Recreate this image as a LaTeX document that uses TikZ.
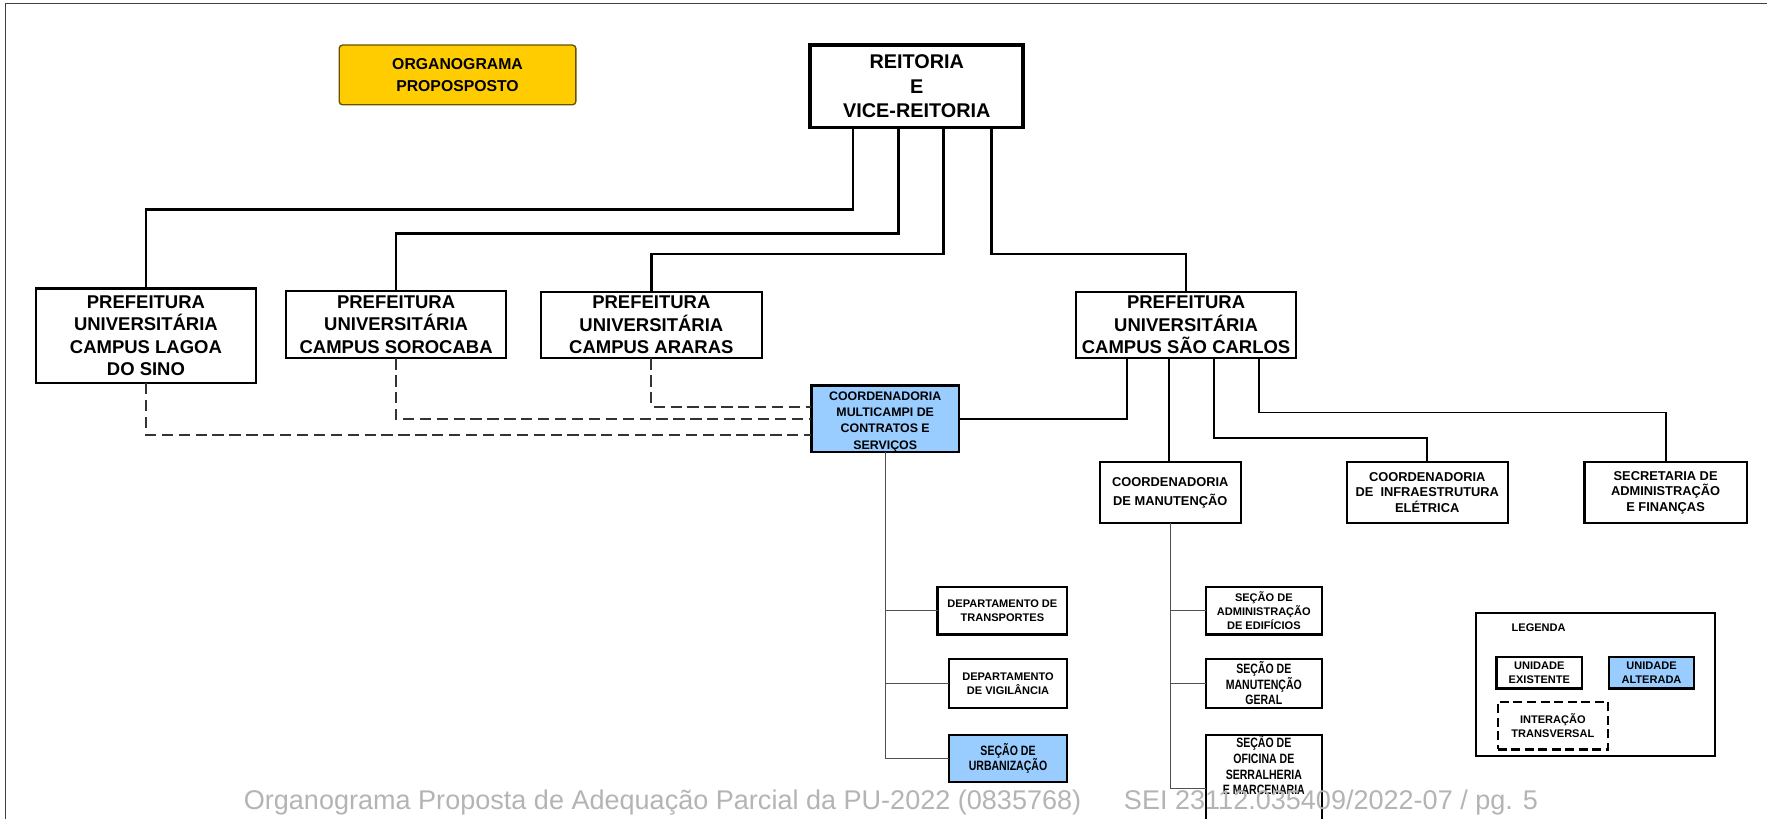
\documentclass[tikz,border=0pt]{standalone}
\usepackage{fontspec}
\setmainfont{Liberation Sans}
\newfontfamily\narrowf[FakeStretch=0.78]{Liberation Sans}
\usetikzlibrary{calc}
\definecolor{ublue}{HTML}{99CCFF}
\definecolor{uyellow}{HTML}{FFCC00}
\definecolor{foot}{HTML}{B4B4B4}
\definecolor{lowgray}{HTML}{505050}
\newcommand\bx[7]{\node[#6, minimum width={(#4-#2)*0.5pt}, minimum height={(#5-#3)*0.5pt}] (#1) at ({(#2+#4)/2},{(#3+#5)/2}) {#7};}
\tikzset{
  box/.style={draw, inner sep=0pt, outer sep=0pt, align=center, line width=1pt},
  pref/.style={box, font=\fontsize{8.2}{10}\selectfont\bfseries},
  multis/.style={box, fill=ublue, font=\fontsize{5.5}{7.2}\selectfont\bfseries},
  coord/.style={box, font=\fontsize{5.7}{6.9}\selectfont\bfseries},
  small/.style={box, font=\fontsize{4.9}{6.3}\selectfont\bfseries},
  narrowbox/.style={box, font=\fontsize{6}{6.9}\narrowf\bfseries},
  topl/.style={line width=1.2pt},
  midl/.style={line width=0.8pt},
  lowl/.style={line width=0.55pt, draw=lowgray},
  dashl/.style={line width=0.8pt, draw=black!80, dash pattern=on 5pt off 2.5pt},
  foottext/.style={anchor=base west, inner sep=0pt, text=foot, font=\fontsize{12}{14}\selectfont},
}
\begin{document}
\begin{tikzpicture}[x=0.5pt,y=-0.5pt]
\useasboundingbox (0,0) rectangle (1568,726);
% page frame
\draw[line width=0.7pt, black!75] (5,730) -- (5,3) -- (1570,3);
% title
\bx{org}{301}{40}{511}{93}{box, fill=uyellow, draw=black!60!uyellow, line width=0.6pt, rounded corners=1.5pt, font=\fontsize{7}{10}\selectfont\bfseries}{ORGANOGRAMA\\PROPOSPOSTO}
% top
\bx{reit}{719}{40}{908}{113}{box, line width=1.6pt, font=\fontsize{8.8}{10.8}\selectfont\bfseries}{REITORIA\\E\\VICE-REITORIA}
% prefeituras
\bx{lagoa}{32}{256}{227}{340}{pref}{PREFEITURA\\UNIVERSITÁRIA\\CAMPUS LAGOA\\DO SINO}
\bx{soro}{254}{258}{449}{318}{pref}{PREFEITURA\\UNIVERSITÁRIA\\CAMPUS SOROCABA}
\bx{arar}{480}{259}{676}{318}{pref}{PREFEITURA\\UNIVERSITÁRIA\\CAMPUS ARARAS}
\bx{sc}{955}{259}{1150}{318}{pref}{PREFEITURA\\UNIVERSITÁRIA\\CAMPUS SÃO CARLOS}
% coordenadorias
\bx{multi}{720}{342}{851}{401}{multis}{\rule{0pt}{6.5pt}COORDENADORIA\\MULTICAMPI DE\\CONTRATOS E\\SERVIÇOS}
\bx{cman}{976}{410}{1101}{464}{coord, font=\fontsize{5.7}{8.5}\selectfont\bfseries}{COORDENADORIA\\DE MANUTENÇÃO}
\bx{cinf}{1195}{410}{1338}{464}{coord}{COORDENADORIA\\DE\ \ INFRAESTRUTURA\\ELÉTRICA}
\bx{sec}{1406}{410}{1550}{464}{coord}{SECRETARIA DE\\ADMINISTRAÇÃO\\E FINANÇAS}
% departamentos
\bx{dtra}{832}{521}{947}{563}{small}{DEPARTAMENTO DE\\TRANSPORTES}
\bx{dvig}{842}{585}{947}{628}{small}{DEPARTAMENTO\\DE VIGILÂNCIA}
\bx{surb}{842}{652}{947}{694}{narrowbox, fill=ublue}{SEÇÃO DE\\URBANIZAÇÃO}
% secoes
\bx{sadm}{1070}{521}{1173}{563}{small}{SEÇÃO DE\\ADMINISTRAÇÃO\\DE EDIFÍCIOS}
\bx{sman}{1070}{585}{1173}{628}{narrowbox}{SEÇÃO DE\\MANUTENÇÃO\\GERAL}
\bx{sofi}{1070}{652}{1173}{740}{narrowbox}{SEÇÃO DE\\OFICINA DE\\SERRALHERIA\\E MARCENARIA\\[10pt]}
% legend
\bx{leg}{1310}{544}{1522}{671}{box}{}
\node[anchor=west, inner sep=0pt, font=\fontsize{4.9}{6}\selectfont\bfseries] (legt) at (1341,557) {LEGENDA};
\bx{lex}{1328}{583}{1404}{611}{small}{UNIDADE\\EXISTENTE}
\bx{lal}{1428}{583}{1503}{611}{small, fill=ublue}{UNIDADE\\ALTERADA}
\bx{lin}{1329}{623}{1427}{665}{small, dash pattern=on 4pt off 2pt}{INTERAÇÃO\\TRANSVERSAL}
% connector helper coordinates
\coordinate (h1) at (0,186);
\coordinate (h2) at (0,207);
\coordinate (h3) at (0,225.5);
\coordinate (h4) at (0,389);
\coordinate (h5) at (0,366);
\coordinate (h6) at (0,700);
\coordinate (d1) at (0,361);
\coordinate (d2) at (0,372);
\coordinate (d3) at (0,386);
\coordinate (s2) at ([xshift=41pt]sc.south west);
% reitoria -> prefeituras
\draw[topl] ([xshift=19pt]reit.south west) |- (lagoa.north |- h1) -- (lagoa.north);
\draw[topl] ([xshift=39pt]reit.south west) |- (soro.north |- h2) -- (soro.north);
\draw[topl] ([xshift=59pt]reit.south west) |- (arar.north |- h3) -- (arar.north);
\draw[topl] ([xshift=80.5pt]reit.south west) |- (sc.north |- h3) -- (sc.north);
% dashed
\draw[dashl] (arar.south) |- (multi.west |- d1);
\draw[dashl] (soro.south) |- (multi.west |- d2);
\draw[dashl] (lagoa.south) |- (multi.west |- d3);
% sao carlos
\draw[midl] ([xshift=22.5pt]sc.south west) |- (multi.east);
\draw[midl] (s2) -- (cman.north -| s2);
\draw[midl] ([xshift=61pt]sc.south west) |- (cinf.north |- h4) -- (cinf.north);
\draw[midl] ([xshift=81pt]sc.south west) |- (sec.north |- h5) -- (sec.north);
% lower
\draw[lowl] (multi.south) |- (surb.west);
\draw[lowl] (multi.south |- dtra.west) -- (dtra.west);
\draw[lowl] (multi.south |- dvig.west) -- (dvig.west);
\draw[lowl] (cman.south) |- (sofi.west |- h6);
\draw[lowl] (cman.south |- sadm.west) -- (sadm.west);
\draw[lowl] (cman.south |- sman.west) -- (sman.west);
% footer
\node[foottext] (f1) at (216,718) {Organograma Proposta de Adequação Parcial da PU-2022 (0835768)};
\node[foottext] (f2) at (997,718) {SEI 23112.035409/2022-07 / pg. 5};
\end{tikzpicture}
\end{document}
